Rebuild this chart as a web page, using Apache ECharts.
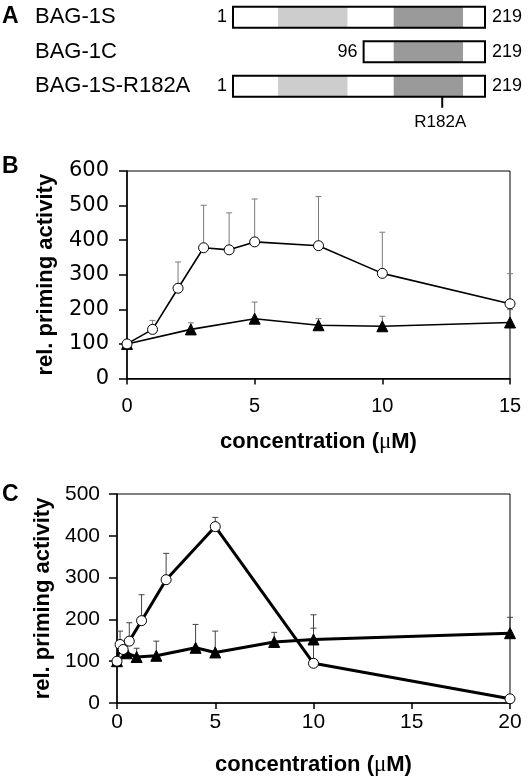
<!DOCTYPE html>
<html><head><meta charset="utf-8">
<script src="https://cdn.jsdelivr.net/npm/echarts@6/dist/echarts.min.js"></script>
<style>html,body{margin:0;padding:0;background:#fff}#c{width:529px;height:777px}</style>
</head><body><div id="c"></div>
<script>
// ---- Panel A: construct schematic (residue units) ----
const constructs = ['BAG-1S', 'BAG-1C', 'BAG-1S-R182A'];
const boxStart = [1, 114, 1];
const boxEnd = [219, 219, 219];
const startLabels = ['1', '96', '1'];
const endLabels = ['219', '219', '219'];
const lightDomain = [[40, 100], null, [40, 100]];
const darkDomain = [[140, 200], [140, 200], [140, 200]];
const mutationPos = [null, null, 182];
const mutationLabel = 'R182A';

// ---- Panel B ----
const bCircleX = [0, 1, 2, 3, 4, 5, 7.5, 10, 15];
const bCircleY = [100, 142, 261, 378, 372, 395, 384, 304, 216];
const bCircleErr = [null, 168, 337, 501, 479, 519, 526, 423, 303];
const bTriX = [0, 2.5, 5, 7.5, 10, 15];
const bTriY = [100, 142, 173, 154, 151, 162];
const bTriErr = [null, 161, 221, 173, 180, 199];

// ---- Panel C ----
const cCircleX = [0, 0.156, 0.3125, 0.625, 1.25, 2.5, 5, 10, 20];
const cCircleY = [100, 140, 128, 148, 197, 295, 422, 95, 10];
const cCircleErr = [null, 172, null, 192, 259, 358, 444, 211, null];
const cTriX = [0, 0.5, 1, 2, 4, 5, 8, 10, 20];
const cTriY = [100, 119, 110, 113, 132, 121, 146, 152, 167];
const cTriErr = [null, null, 131, 148, 188, 172, 169, 179, 205];

const yTitle = 'rel. priming activity';
const xTitle = 'concentration ({mu|μ}M)';

function pairs(xs, ys) { return xs.map((x, i) => [x, ys[i]]); }
function errs(xs, ys, es) {
  const out = [];
  xs.forEach((x, i) => { if (es[i] != null) out.push([x, ys[i], es[i]]); });
  return out;
}
function errRender(color) {
  return function (params, api) {
    const x = api.value(0), y = api.value(1), t = api.value(2);
    const p0 = api.coord([x, y]), p1 = api.coord([x, t]);
    return { type: 'group', children: [
      { type: 'line', shape: { x1: p0[0], y1: p0[1], x2: p1[0], y2: p1[1] }, style: { stroke: color, lineWidth: 1 } },
      { type: 'line', shape: { x1: p1[0] - 3, y1: p1[1], x2: p1[0] + 3, y2: p1[1] }, style: { stroke: color, lineWidth: 1 } }
    ]};
  };
}

const SANS = 'Liberation Sans';
const chart = echarts.init(document.getElementById('c'), null, { renderer: 'canvas' });

function schematicRender(params, api) {
  const i = api.value(2);
  const p0 = api.coord([api.value(0), i]);
  const p1 = api.coord([api.value(1), i]);
  const h = 21, yc = p0[1], top = yc - h / 2;
  const ch = [];
  ch.push({ type: 'rect', shape: { x: p0[0], y: top, width: p1[0] - p0[0], height: h }, style: { fill: '#fff' } });
  if (lightDomain[i]) {
    const a = api.coord([lightDomain[i][0], i])[0], b = api.coord([lightDomain[i][1], i])[0];
    ch.push({ type: 'rect', shape: { x: a, y: top, width: b - a, height: h }, style: { fill: '#cdcdcd' } });
  }
  if (darkDomain[i]) {
    const a = api.coord([darkDomain[i][0], i])[0], b = api.coord([darkDomain[i][1], i])[0];
    ch.push({ type: 'rect', shape: { x: a, y: top, width: b - a, height: h }, style: { fill: '#9a9a9a' } });
  }
  ch.push({ type: 'rect', shape: { x: p0[0], y: top, width: p1[0] - p0[0], height: h }, style: { fill: null, stroke: '#000', lineWidth: 2 } });
  ch.push({ type: 'text', x: p0[0] - 6, y: yc, style: { text: startLabels[i], font: '18px ' + SANS, fill: '#000', align: 'right', verticalAlign: 'middle' } });
  ch.push({ type: 'text', x: p1[0] + 7, y: yc, style: { text: endLabels[i], font: '18px ' + SANS, fill: '#000', align: 'left', verticalAlign: 'middle' } });
  if (mutationPos[i] != null) {
    const mx = api.coord([mutationPos[i], i])[0];
    ch.push({ type: 'line', shape: { x1: mx, y1: top + h, x2: mx, y2: top + h + 11 }, style: { stroke: '#000', lineWidth: 2 } });
    ch.push({ type: 'text', x: mx - 2, y: top + h + 26, style: { text: mutationLabel, font: '17px ' + SANS, fill: '#000', align: 'center', verticalAlign: 'middle' } });
  }
  return { type: 'group', children: ch };
}

const axisLine = { lineStyle: { color: '#000', width: 1.5 } };
const richMu = { mu: { fontFamily: 'Liberation Serif', fontSize: 23, fontWeight: 'normal', color: '#000' } };

const option = {
  backgroundColor: '#fff',
  animation: false,
  graphic: [
    { type: 'text', left: 2, top: 5, style: { text: 'A', font: 'bold 23px ' + SANS, fill: '#000' } },
    { type: 'text', left: 2, top: 155, style: { text: 'B', font: 'bold 23px ' + SANS, fill: '#000' } },
    { type: 'text', left: 2, top: 483, style: { text: 'C', font: 'bold 23px ' + SANS, fill: '#000' } }
  ],
  grid: [
    { left: 233, right: 44, top: -7.5, height: 111 },
    { left: 127, right: 19, top: 171, height: 207.5, show: true, borderColor: '#000', borderWidth: 1 },
    { left: 117, right: 19, top: 494, height: 210, show: true, borderColor: '#000', borderWidth: 1 }
  ],
  xAxis: [
    { gridIndex: 0, type: 'value', min: 1, max: 219, show: false },
    { gridIndex: 1, type: 'value', min: 0, max: 15, interval: 5,
      axisLine: axisLine, splitLine: { show: false },
      axisTick: { length: 6, lineStyle: { color: '#000', width: 1.5 } },
      axisLabel: { margin: 18, fontFamily: SANS, fontSize: 20, color: '#000' },
      name: xTitle, nameLocation: 'middle', nameGap: 52,
      nameTextStyle: { fontFamily: SANS, fontSize: 22, fontWeight: 'bold', color: '#000', rich: richMu } },
    { gridIndex: 2, type: 'value', min: 0, max: 20, interval: 5,
      axisLine: axisLine, splitLine: { show: false },
      axisTick: { length: 6, lineStyle: { color: '#000', width: 1.5 } },
      axisLabel: { margin: 9, fontFamily: SANS, fontSize: 21, color: '#000' },
      name: xTitle, nameLocation: 'middle', nameGap: 50,
      nameTextStyle: { fontFamily: SANS, fontSize: 22, fontWeight: 'bold', color: '#000', rich: richMu } }
  ],
  yAxis: [
    { gridIndex: 0, type: 'category', data: constructs, inverse: true,
      axisLine: { show: false }, axisTick: { show: false }, splitLine: { show: false },
      axisLabel: { align: 'left', margin: 198, fontFamily: SANS, fontSize: 22, color: '#000' } },
    { gridIndex: 1, type: 'value', min: 0, max: 600, interval: 100,
      axisLine: axisLine, splitLine: { show: false },
      axisTick: { length: 8, lineStyle: { color: '#000', width: 1.5 } },
      axisLabel: { margin: 18, fontFamily: 'DejaVu Sans', fontSize: 21, color: '#000' },
      name: yTitle, nameLocation: 'middle', nameGap: 70,
      nameTextStyle: { fontFamily: SANS, fontSize: 22, fontWeight: 'bold', color: '#000' } },
    { gridIndex: 2, type: 'value', min: 0, max: 500, interval: 100,
      axisLine: axisLine, splitLine: { show: false },
      axisTick: { length: 8, lineStyle: { color: '#000', width: 1.5 } },
      axisLabel: { margin: 17, fontFamily: SANS, fontSize: 21, color: '#000' },
      name: yTitle, nameLocation: 'middle', nameGap: 61,
      nameTextStyle: { fontFamily: SANS, fontSize: 22, fontWeight: 'bold', color: '#000' } }
  ],
  series: [
    { type: 'custom', xAxisIndex: 0, yAxisIndex: 0, renderItem: schematicRender,
      data: constructs.map((c, i) => [boxStart[i], boxEnd[i], i]), clip: false },

    { type: 'custom', xAxisIndex: 1, yAxisIndex: 1, renderItem: errRender('#7a7a7a'), data: errs(bCircleX, bCircleY, bCircleErr), z: 1, clip: false },
    { type: 'custom', xAxisIndex: 1, yAxisIndex: 1, renderItem: errRender('#7a7a7a'), data: errs(bTriX, bTriY, bTriErr), z: 1, clip: false },
    { type: 'line', xAxisIndex: 1, yAxisIndex: 1, data: pairs(bTriX, bTriY), z: 3,
      lineStyle: { color: '#000', width: 1.6 }, symbol: 'triangle', symbolSize: 11,
      itemStyle: { color: '#000', borderColor: '#000' } },
    { type: 'line', xAxisIndex: 1, yAxisIndex: 1, data: pairs(bCircleX, bCircleY), z: 4,
      lineStyle: { color: '#000', width: 1.6 }, symbol: 'circle', symbolSize: 10,
      itemStyle: { color: '#fff', borderColor: '#000', borderWidth: 1 } },

    { type: 'custom', xAxisIndex: 2, yAxisIndex: 2, renderItem: errRender('#444'), data: errs(cCircleX, cCircleY, cCircleErr), z: 1, clip: false },
    { type: 'custom', xAxisIndex: 2, yAxisIndex: 2, renderItem: errRender('#444'), data: errs(cTriX, cTriY, cTriErr), z: 1, clip: false },
    { type: 'line', xAxisIndex: 2, yAxisIndex: 2, data: pairs(cTriX, cTriY), z: 3,
      lineStyle: { color: '#000', width: 3 }, symbol: 'triangle', symbolSize: 11,
      itemStyle: { color: '#000', borderColor: '#000' } },
    { type: 'line', xAxisIndex: 2, yAxisIndex: 2, data: pairs(cCircleX, cCircleY), z: 4,
      lineStyle: { color: '#000', width: 3 }, symbol: 'circle', symbolSize: 10,
      itemStyle: { color: '#fff', borderColor: '#000', borderWidth: 1 } }
  ]
};
chart.setOption(option);
</script>
</body></html>
